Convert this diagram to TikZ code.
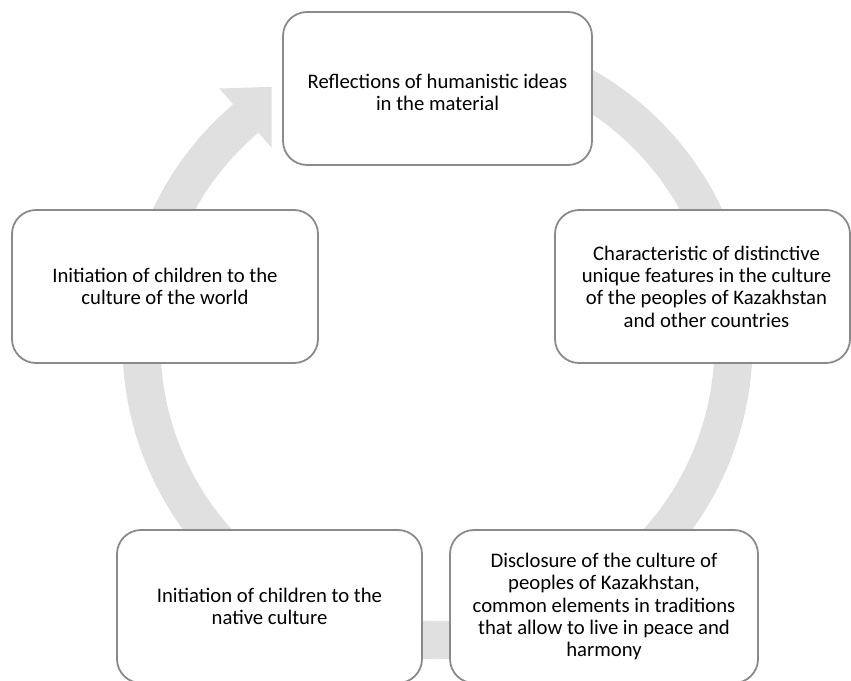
\documentclass[tikz,border=0pt]{standalone}
\usepackage{fontspec}
\setmainfont{Carlito}
\usetikzlibrary{calc}
\definecolor{ringgray}{HTML}{E0E0E0}
\definecolor{boxline}{HTML}{8A8A8A}
\tikzset{
  boxtext/.style={align=center, inner sep=0pt, font=\fontsize{20.7}{22.4}\selectfont, text=black},
  cyclebox/.style={draw=boxline, line width=1.8pt, fill=white, rounded corners=24pt,
    boxtext, minimum height=153pt},
}
\begin{document}
\begin{tikzpicture}[x=1pt,y=-1pt]
\useasboundingbox (0,0) rectangle (851,680);
\coordinate (C) at (437.5,344);
% circular arrow band
\fill[ringgray] ($(C)+(-75:315)$) arc[start angle=-75, end angle=230.5, radius=315]
  -- ($(C)+(230.5:277)$) arc[start angle=230.5, end angle=-75, radius=277] -- cycle;
\fill[ringgray] ($(C)+(229.5:336)$) -- ($(C)+(237.2:306)$) -- ($(C)+(229.8:257)$) -- cycle;
% boxes
\node[cyclebox, minimum width=309pt,
  label={[boxtext, yshift=-4pt]center:{Reflections of humanistic ideas\\in the material}}]
  (top) at (437.5,88.5) {};
\node[cyclebox, minimum width=295pt,
  label={[boxtext, xshift=4pt]center:{Characteristic of distinctive\\unique features in the culture\\of the peoples of Kazakhstan\\and other countries}}]
  (right) at (702.5,286.5) {};
\node[cyclebox, minimum width=308pt] (bright) at (604,606.5)
  {Disclosure of the culture of\\peoples of Kazakhstan,\\common elements in traditions\\that allow to live in peace and\\harmony};
\node[cyclebox, minimum width=305pt] (bleft) at (269.5,606.5)
  {Initiation of children to the\\native culture};
\node[cyclebox, minimum width=306pt] (left) at (165,286.5)
  {Initiation of children to the\\culture of the world};
\end{tikzpicture}
\end{document}
